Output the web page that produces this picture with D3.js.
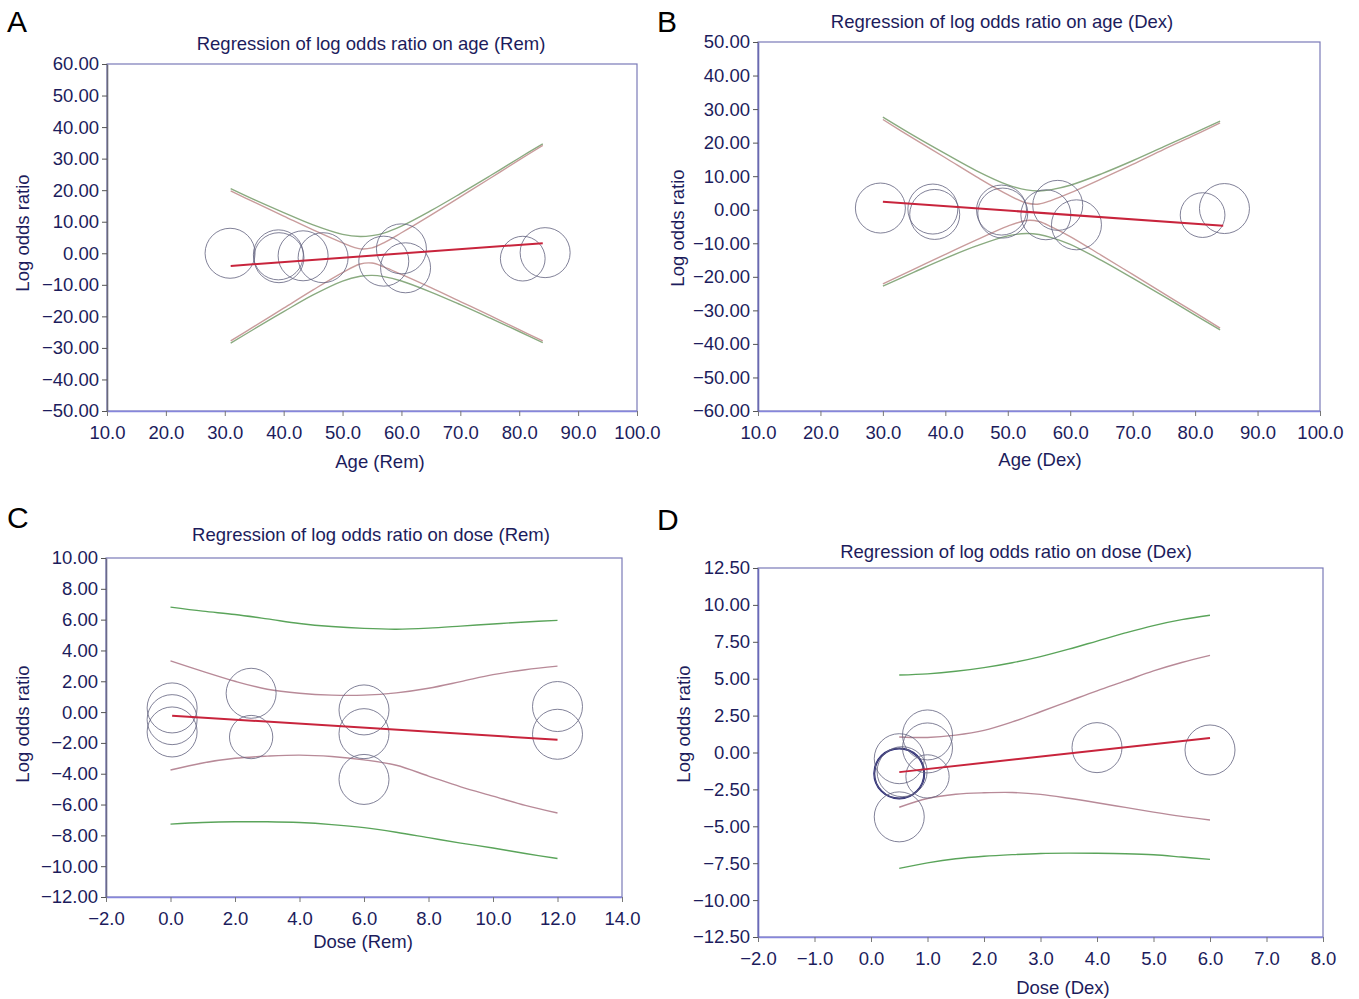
<!DOCTYPE html>
<html><head><meta charset="utf-8">
<script src="https://cdn.jsdelivr.net/npm/d3@7"></script>
<style>
body{margin:0;background:#fff}
svg{display:block}
text{font-family:"Liberation Sans",Arial,Helvetica,sans-serif}
</style>
</head><body>
<svg id="chart" width="1359" height="999"></svg>
<script>
// ---------------- DATA ----------------
const panelLetters = ["A", "B", "C", "D"];
const panelTitles = [
  "Regression of log odds ratio on age (Rem)",
  "Regression of log odds ratio on age (Dex)",
  "Regression of log odds ratio on dose (Rem)",
  "Regression of log odds ratio on dose (Dex)"
];
const xAxisTitles = ["Age (Rem)", "Age (Dex)", "Dose (Rem)", "Dose (Dex)"];
const yAxisTitle = "Log odds ratio";

// tick values
const aXTicks = [10, 20, 30, 40, 50, 60, 70, 80, 90, 100];
const aYTicks = [60, 50, 40, 30, 20, 10, 0, -10, -20, -30, -40, -50];
const bXTicks = [10, 20, 30, 40, 50, 60, 70, 80, 90, 100];
const bYTicks = [50, 40, 30, 20, 10, 0, -10, -20, -30, -40, -50, -60];
const cXTicks = [-2, 0, 2, 4, 6, 8, 10, 12, 14];
const cYTicks = [10, 8, 6, 4, 2, 0, -2, -4, -6, -8, -10, -12];
const dXTicks = [-2, -1, 0, 1, 2, 3, 4, 5, 6, 7, 8];
const dYTicks = [12.5, 10, 7.5, 5, 2.5, 0, -2.5, -5, -7.5, -10, -12.5];

// Panel A: age (Rem)
const aStudyX = [30.9, 39.1, 39.2, 43.3, 46.7, 57.0, 60.0, 60.7, 80.6, 84.4];
const aStudyY = [0.0, -0.5, -1.4, -0.8, -1.4, -2.5, 1.4, -4.6, -1.7, 0.2];
const aStudyW = [1, 1, 1, 1, 1, 1, 1, 1, 0.8, 1];
const aFitX = [31, 84];
const aFitY = [-4.0, 3.2];
const aCurveX = [31, 35, 40, 45, 50, 53, 55, 57, 60, 65, 70, 75, 80, 84];
const aOuterUpper = [20.5, 17.0, 12.9, 9.0, 6.0, 5.3, 5.6, 6.4, 8.6, 13.5, 18.9, 24.5, 30.2, 34.7];
const aOuterLower = [-28.5, -24.0, -18.5, -13.2, -8.8, -7.3, -7.0, -7.4, -8.8, -12.3, -16.3, -20.5, -24.8, -28.3];
const aInnerUpper = [19.8, 16.2, 11.8, 7.4, 3.3, 1.4, 1.7, 3.3, 6.5, 12.1, 17.9, 23.7, 29.6, 34.2];
const aInnerLower = [-27.8, -23.2, -17.4, -11.6, -6.1, -3.4, -3.1, -4.3, -6.7, -10.9, -15.3, -19.7, -24.2, -27.8];

// Panel B: age (Dex)
const bStudyX = [29.6, 38.0, 38.3, 49.0, 49.2, 56.1, 58.0, 61.0, 81.2, 84.7];
const bStudyY = [0.5, 0.2, -1.4, -0.1, -1.0, -1.5, 1.3, -4.5, -1.6, 0.35];
const bStudyW = [1, 1, 1, 1, 1, 1, 1, 1, 0.8, 1];
const bFitX = [30, 84.5];
const bFitY = [2.4, -4.8];
const bCurveX = [30, 35, 40, 45, 50, 53, 55, 57, 60, 65, 70, 75, 80, 84];
const bOuterUpper = [27.6, 22.0, 16.7, 11.6, 7.4, 5.9, 5.6, 6.0, 7.3, 10.7, 14.6, 18.8, 23.0, 26.4];
const bOuterLower = [-22.8, -18.6, -14.5, -10.8, -7.8, -7.1, -7.4, -8.3, -10.3, -15.1, -20.4, -25.8, -31.4, -35.8];
const bInnerUpper = [26.9, 21.1, 15.5, 9.8, 4.5, 2.0, 1.7, 2.8, 5.0, 9.2, 13.5, 18.0, 22.3, 25.9];
const bInnerLower = [-22.1, -17.7, -13.3, -9.0, -4.9, -3.2, -3.5, -5.1, -8.0, -13.6, -19.3, -25.0, -30.7, -35.3];

// Panel C: dose (Rem)
const cStudyX = [0.05, 0.05, 0.05, 2.5, 2.5, 6.0, 6.0, 6.0, 12.0, 12.0];
const cStudyY = [0.27, -0.49, -1.29, 1.22, -1.62, 0.14, -1.4, -4.37, 0.36, -1.44];
const cStudyW = [1, 1, 1, 1, 0.75, 1, 1, 1, 1, 1];
const cFitX = [0.05, 12.0];
const cFitY = [-0.23, -1.8];
const cCurveX = [0, 1, 2, 3, 4, 5, 6, 7, 8, 9, 10, 11, 12];
const cOuterUpper = [6.81, 6.55, 6.33, 6.05, 5.75, 5.55, 5.43, 5.38, 5.45, 5.58, 5.72, 5.85, 5.95];
const cOuterLower = [-7.27, -7.17, -7.12, -7.12, -7.17, -7.3, -7.5, -7.8, -8.15, -8.5, -8.82, -9.18, -9.5];
const cInnerUpper = [3.32, 2.64, 2.0, 1.48, 1.22, 1.1, 1.1, 1.25, 1.55, 1.98, 2.43, 2.75, 2.98];
const cInnerLower = [-3.76, -3.3, -3.0, -2.86, -2.79, -2.88, -3.1, -3.45, -4.15, -4.85, -5.45, -6.05, -6.55];

// Panel D: dose (Dex)
const dStudyX = [0.5, 0.5, 0.55, 0.5, 1.0, 1.0, 1.0, 0.5, 4.0, 6.0];
const dStudyY = [-1.42, -0.42, -1.3, -1.42, 1.19, 0.31, -1.62, -4.36, 0.33, 0.17];
const dStudyW = [1, 1, 1, 1, 1, 1, 0.75, 1, 1, 1];
const dFitX = [0.5, 6.0];
const dFitY = [-1.33, 0.99];
const dCurveX = [0.5, 1, 1.5, 2, 2.5, 3, 3.5, 4, 4.5, 5, 5.5, 6];
const dOuterUpper = [5.25, 5.33, 5.5, 5.75, 6.08, 6.5, 7.0, 7.55, 8.1, 8.6, 9.0, 9.3];
const dOuterLower = [-7.85, -7.48, -7.2, -7.03, -6.92, -6.84, -6.82, -6.83, -6.86, -6.93, -7.08, -7.24];
const dInnerUpper = [1.05, 1.02, 1.18, 1.5, 2.07, 2.76, 3.47, 4.18, 4.85, 5.53, 6.1, 6.58];
const dInnerLower = [-3.71, -3.12, -2.83, -2.73, -2.71, -2.84, -3.1, -3.4, -3.72, -4.04, -4.33, -4.57];

// ---------------- LAYOUT / STYLE ----------------
const FONT = 18.5;
const NAVY = "#1c1c5c";
const layouts = [
  {l:107, r:637, t:64, b:411, titleX:371, titleY:50, xlX:380, xlY:468, ylX:22, ylY:233, letX:7, letY:32,
   outer:"#8aab80", inner:"#c99c9c", yDec:2, xDec:1, leftCol:"#6a6a7a"},
  {l:758, r:1320, t:42, b:411, titleX:1002, titleY:28, xlX:1040, xlY:466, ylX:677, ylY:228, letX:657, letY:32,
   outer:"#8aab80", inner:"#c99c9c", yDec:2, xDec:1, leftCol:"#6a6ab0"},
  {l:106, r:622, t:558, b:897, titleX:371, titleY:541, xlX:363, xlY:948, ylX:22, ylY:724, letX:7, letY:528,
   outer:"#5aa45a", inner:"#b88a98", yDec:2, xDec:1, leftCol:"#6a6a8a"},
  {l:758, r:1323, t:568, b:937, titleX:1016, titleY:558, xlX:1063, xlY:994, ylX:683, ylY:724, letX:657, letY:530,
   outer:"#5aa45a", inner:"#b88a98", yDec:2, xDec:1, leftCol:"#6a6ab8"}
];
const highlight = [null, null, null, 0]; // bold circle index per panel

const panelData = [
  {xt:aXTicks, yt:aYTicks, sx:aStudyX, sy:aStudyY, sw:aStudyW, fx:aFitX, fy:aFitY, cx:aCurveX, ou:aOuterUpper, ol:aOuterLower, iu:aInnerUpper, il:aInnerLower},
  {xt:bXTicks, yt:bYTicks, sx:bStudyX, sy:bStudyY, sw:bStudyW, fx:bFitX, fy:bFitY, cx:bCurveX, ou:bOuterUpper, ol:bOuterLower, iu:bInnerUpper, il:bInnerLower},
  {xt:cXTicks, yt:cYTicks, sx:cStudyX, sy:cStudyY, sw:cStudyW, fx:cFitX, fy:cFitY, cx:cCurveX, ou:cOuterUpper, ol:cOuterLower, iu:cInnerUpper, il:cInnerLower},
  {xt:dXTicks, yt:dYTicks, sx:dStudyX, sy:dStudyY, sw:dStudyW, fx:dFitX, fy:dFitY, cx:dCurveX, ou:dOuterUpper, ol:dOuterLower, iu:dInnerUpper, il:dInnerLower}
];

const svg = d3.select("#chart");
const minus = s => s.replace(/-/g, "\u2212");
const rScale = d3.scaleSqrt().domain([0, 1]).range([0, 25]);

panelData.forEach((p, i) => {
  const L = layouts[i];
  const g = svg.append("g");
  const x = d3.scaleLinear().domain(d3.extent(p.xt)).range([L.l, L.r]);
  const y = d3.scaleLinear().domain(d3.extent(p.yt)).range([L.b, L.t]);

  // frame
  g.append("rect").attr("x", L.l).attr("y", L.t).attr("width", L.r - L.l).attr("height", L.b - L.t)
    .attr("fill", "#fff").attr("stroke", "#7a7ab8").attr("stroke-width", 1.2);

  // curves
  const line = d3.line().x(d => x(d[0])).y(d => y(d[1])).curve(d3.curveCatmullRom.alpha(0.5));
  const curves = [[p.ou, L.outer], [p.ol, L.outer], [p.iu, L.inner], [p.il, L.inner]];
  curves.forEach(([vals, col]) => {
    g.append("path").datum(p.cx.map((xv, k) => [xv, vals[k]]))
      .attr("d", line).attr("fill", "none").attr("stroke", col).attr("stroke-width", 1.4);
  });

  // study circles
  p.sx.forEach((xv, k) => {
    const hl = highlight[i] === k;
    g.append("circle").attr("cx", x(xv)).attr("cy", y(p.sy[k])).attr("r", rScale(p.sw[k]))
      .attr("fill", "none").attr("stroke", hl ? "#23237a" : "#62627e")
      .attr("stroke-width", hl ? 2 : 1).attr("stroke-opacity", hl ? 1 : 0.8);
  });

  // regression line
  g.append("path").datum(p.fx.map((xv, k) => [xv, p.fy[k]]))
    .attr("d", d3.line().x(d => x(d[0])).y(d => y(d[1])))
    .attr("stroke", "#c8243c").attr("stroke-width", 2).attr("fill", "none");

  // axes
  const ax = g.append("g").attr("transform", `translate(0,${L.b})`)
    .call(d3.axisBottom(x).tickValues(p.xt).tickFormat(v => minus(d3.format(`.${L.xDec}f`)(v)))
      .tickSize(5).tickSizeOuter(0).tickPadding(10));
  ax.select(".domain").attr("stroke", "#8686dc").attr("stroke-width", 1.6);
  ax.selectAll(".tick line").attr("stroke", "#777");
  ax.selectAll("text").attr("fill", NAVY).style("font-size", FONT + "px");

  const ay = g.append("g").attr("transform", `translate(${L.l},0)`)
    .call(d3.axisLeft(y).tickValues(p.yt).tickFormat(v => minus(d3.format(`.${L.yDec}f`)(v)))
      .tickSize(5).tickSizeOuter(0).tickPadding(3));
  ay.select(".domain").attr("stroke", L.leftCol).attr("stroke-width", 1.6);
  ay.selectAll(".tick line").attr("stroke", "#555");
  ay.selectAll("text").attr("fill", NAVY).style("font-size", FONT + "px");

  // texts
  g.append("text").attr("x", L.titleX).attr("y", L.titleY).attr("text-anchor", "middle")
    .attr("fill", NAVY).style("font-size", FONT + "px").text(panelTitles[i]);
  g.append("text").attr("x", L.xlX).attr("y", L.xlY).attr("text-anchor", "middle")
    .attr("fill", NAVY).style("font-size", FONT + "px").text(xAxisTitles[i]);
  g.append("text").attr("transform", `translate(${L.ylX},${L.ylY}) rotate(-90)`)
    .attr("text-anchor", "middle").attr("dominant-baseline", "central")
    .attr("fill", NAVY).style("font-size", FONT + "px").text(yAxisTitle);
  g.append("text").attr("x", L.letX).attr("y", L.letY).attr("fill", "#000")
    .style("font-size", "30px").text(panelLetters[i]);
});
</script>
</body></html>
